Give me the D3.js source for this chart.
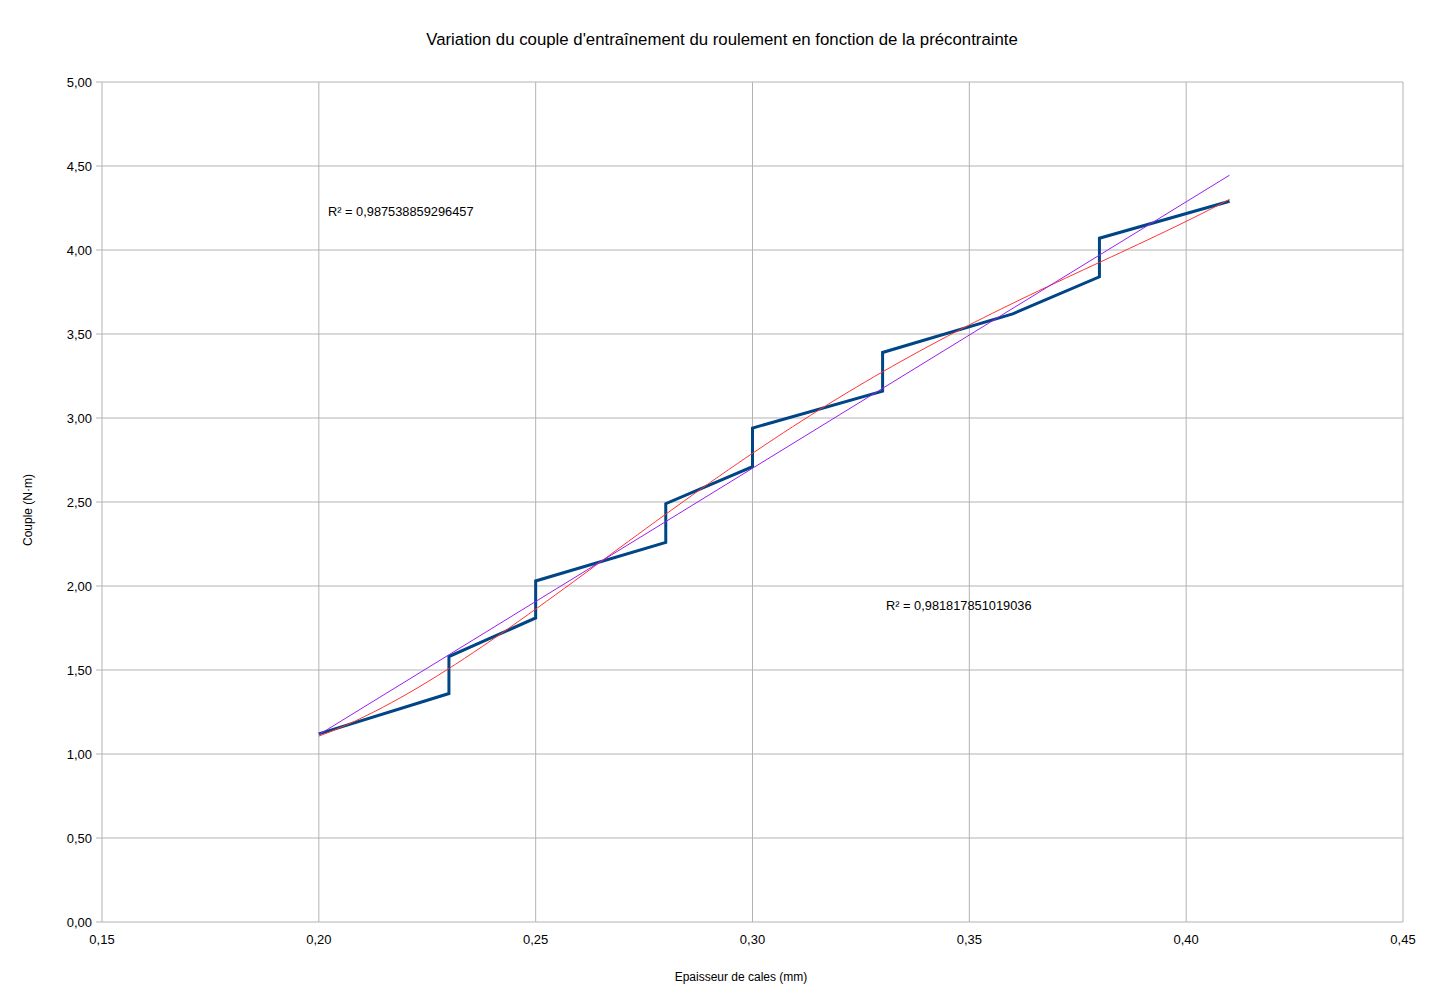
<!DOCTYPE html>
<html>
<head>
<meta charset="utf-8">
<script src="https://cdn.jsdelivr.net/npm/d3@7"></script>
<style>
  body { margin: 0; background: #fff; }
  svg { font-family: "Liberation Sans", Arial, sans-serif; }
</style>
</head>
<body>
<svg id="chart" width="1444" height="1004"></svg>
<script>
// Data (mm of shims vs torque)
const thickness = [0.20, 0.23, 0.23, 0.25, 0.25, 0.28, 0.28, 0.30, 0.30, 0.33, 0.33, 0.36, 0.38, 0.38, 0.41];
const torque    = [1.12, 1.36, 1.58, 1.81, 2.03, 2.26, 2.49, 2.71, 2.94, 3.16, 3.39, 3.62, 3.84, 4.07, 4.29];
const xTicks = [0.15, 0.20, 0.25, 0.30, 0.35, 0.40, 0.45];
const yTicks = [0, 0.5, 1, 1.5, 2, 2.5, 3, 3.5, 4, 4.5, 5];
const r2Labels = ["R² = 0,987538859296457", "R² = 0,981817851019036"];

const svg = d3.select("#chart");
const margin = { left: 102, right: 41, top: 82, bottom: 82 };
const width = 1444 - margin.left - margin.right;
const height = 1004 - margin.top - margin.bottom;

const x = d3.scaleLinear().domain([0.15, 0.45]).range([0, width]);
const y = d3.scaleLinear().domain([0, 5]).range([height, 0]);
const fmt = v => d3.format(".2f")(v).replace(".", ",");

const g = svg.append("g").attr("transform", `translate(${margin.left},${margin.top})`);

// grid lines
g.selectAll(".hgrid").data(yTicks).enter().append("line")
    .attr("x1", -6).attr("x2", width)
    .attr("y1", d => y(d)).attr("y2", d => y(d))
    .attr("stroke", "#b3b3b3").attr("stroke-width", 1);
g.selectAll(".vgrid").data(xTicks).enter().append("line")
    .attr("x1", d => x(d)).attr("x2", d => x(d))
    .attr("y1", 0).attr("y2", height)
    .attr("stroke", "#b3b3b3").attr("stroke-width", 1);

// tick labels
g.selectAll(".ylab").data(yTicks).enter().append("text")
    .attr("x", -10).attr("y", d => y(d) + 5)
    .attr("text-anchor", "end").attr("font-size", 13).attr("fill", "#000")
    .text(fmt);
g.selectAll(".xlab").data(xTicks).enter().append("text")
    .attr("x", d => x(d)).attr("y", height + 22)
    .attr("text-anchor", "middle").attr("font-size", 13).attr("fill", "#000")
    .text(fmt);

const points = thickness.map((t, i) => [t, torque[i]]);

// data line
g.append("path")
    .datum(points)
    .attr("fill", "none").attr("stroke", "#004586").attr("stroke-width", 3)
    .attr("stroke-linejoin", "miter")
    .attr("d", d3.line().x(d => x(d[0])).y(d => y(d[1])));

// polynomial trend line (least squares, order 4), x centred for stability
const x0 = 0.3;
function polyFit(xs, ys, deg) {
    const n = deg + 1;
    const m = [];
    for (let i = 0; i < n; i++) {
        m.push([]);
        for (let j = 0; j < n; j++) m[i].push(d3.sum(xs, xv => Math.pow(xv - x0, i + j)));
        m[i].push(d3.sum(xs, (xv, k) => ys[k] * Math.pow(xv - x0, i)));
    }
    for (let i = 0; i < n; i++) {
        for (let j = i + 1; j < n; j++) {
            const f = m[j][i] / m[i][i];
            for (let k = i; k <= n; k++) m[j][k] -= f * m[i][k];
        }
    }
    const c = new Array(n).fill(0);
    for (let i = n - 1; i >= 0; i--) {
        let v = m[i][n];
        for (let k = i + 1; k < n; k++) v -= m[i][k] * c[k];
        c[i] = v / m[i][i];
    }
    return c;
}
const coef = polyFit(thickness, torque, 4);
const poly = xv => coef.reduce((s, c, k) => s + c * Math.pow(xv - x0, k), 0);
const xMin = d3.min(thickness), xMax = d3.max(thickness);
const curve = d3.range(0, 101).map(i => {
    const xv = xMin + (xMax - xMin) * i / 100;
    return [xv, poly(xv)];
});
g.append("path")
    .datum(curve)
    .attr("fill", "none").attr("stroke", "#ff3333").attr("stroke-width", 1)
    .attr("d", d3.line().x(d => x(d[0])).y(d => y(d[1])));

// linear trend line
const mx = d3.mean(thickness), my = d3.mean(torque);
const slope = d3.sum(thickness, (t, i) => (t - mx) * (torque[i] - my)) / d3.sum(thickness, t => (t - mx) * (t - mx));
const icpt = my - slope * mx;
g.append("path")
    .datum([[xMin, icpt + slope * xMin], [xMax, icpt + slope * xMax]])
    .attr("fill", "none").attr("stroke", "#9a1ef0").attr("stroke-width", 1)
    .attr("d", d3.line().x(d => x(d[0])).y(d => y(d[1])));

// R² labels
svg.append("text").attr("x", 328).attr("y", 216).attr("font-size", 12.8).text(r2Labels[0]);
svg.append("text").attr("x", 886).attr("y", 610).attr("font-size", 12.8).text(r2Labels[1]);

// titles
svg.append("text").attr("x", 722).attr("y", 45).attr("text-anchor", "middle")
    .attr("font-size", 16.8).text("Variation du couple d'entraînement du roulement en fonction de la précontrainte");
svg.append("text").attr("x", 741).attr("y", 981).attr("text-anchor", "middle")
    .attr("font-size", 12).text("Epaisseur de cales (mm)");
svg.append("text").attr("transform", "translate(32,510) rotate(-90)").attr("text-anchor", "middle")
    .attr("font-size", 12).text("Couple (N·m)");
</script>
</body>
</html>
